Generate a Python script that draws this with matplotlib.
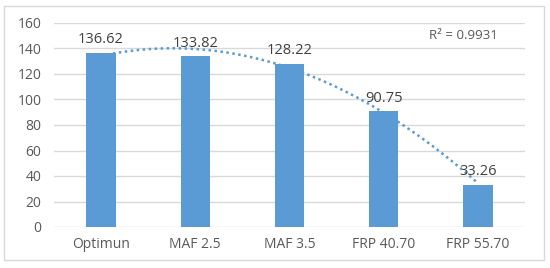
import numpy as np
import matplotlib.pyplot as plt
from matplotlib.patches import Rectangle

categories = ["Optimun", "MAF 2.5", "MAF 3.5", "FRP 40.70", "FRP 55.70"]
values = [136.62, 133.82, 128.22, 90.75, 33.26]
r2_text = "R² = 0.9931"

bar_color = "#5B9BD5"
text_color = "#595959"
grid_color = "#D9D9D9"

plt.rcParams['font.family'] = ['Open Sans', 'DejaVu Sans']

fig = plt.figure(figsize=(5.5, 2.68), dpi=100)
ax = fig.add_axes([54 / 550, 1 - 227 / 268, 471 / 550, 204 / 268])

x = np.arange(len(categories))
bars = ax.bar(x, values, width=0.31, color=bar_color, zorder=2)

# data labels
for xi, v in zip(x, values):
    ax.annotate(f"{v:.2f}", (xi, v), xytext=(0, 4), textcoords="offset points",
                ha="center", va="bottom", fontsize=10.5, color="#404040", zorder=4)

# 2nd order polynomial trendline
coef = np.polyfit(x, values, 2)
xs = np.linspace(x[0], x[-1], 200)
ax.plot(xs, np.polyval(coef, xs), linestyle=(0, (1, 1.4)), color=bar_color,
        lw=1.8, zorder=3)
ax.text(0.87, 0.94, r2_text, transform=ax.transAxes, ha="center", va="center",
        fontsize=9.5, color=text_color)

ax.set_xlim(-0.5, len(categories) - 0.5)
ax.set_ylim(0, 160)
ax.set_yticks(range(0, 161, 20))
ax.set_xticks(x)
ax.set_xticklabels(categories)
ax.yaxis.grid(True, color=grid_color, lw=1, zorder=0)
ax.set_axisbelow(True)
for s in ax.spines.values():
    s.set_visible(False)
ax.tick_params(axis="both", length=0, labelsize=10, colors=text_color)
ax.tick_params(axis="x", pad=7)
ax.tick_params(axis="y", pad=9)

# chart border
fig.patches.append(Rectangle((4 / 550, 1 - 260 / 268), 540 / 550, 254 / 268,
                             transform=fig.transFigure, fill=False,
                             edgecolor=grid_color, lw=1))

fig.savefig("out.png", dpi=100)
